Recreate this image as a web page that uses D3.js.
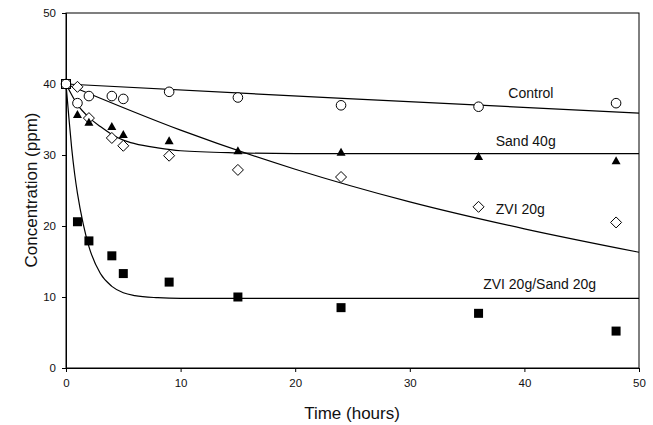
<!DOCTYPE html>
<html>
<head>
<meta charset="utf-8">
<script src="https://cdn.jsdelivr.net/npm/d3@7"></script>
<style>
  body { margin: 0; background: #fff; }
  svg { display: block; font-family: "Liberation Sans", Arial, sans-serif; }
</style>
</head>
<body>
<svg id="chart" width="653" height="425"></svg>
<script>
// measured points (hours, ppm)
const times = [1, 2, 4, 5, 9, 15, 24, 36, 48];
const control  = [37.3, 38.3, 38.3, 37.9, 38.9, 38.1, 37.0, 36.8, 37.3];
const sand40   = [35.7, 34.6, 34.0, 32.9, 32.0, 30.6, 30.4, 29.8, 29.2];
const zvi20    = [39.6, 35.2, 32.4, 31.3, 29.9, 27.9, 26.9, 22.7, 20.5];
const zviSand  = [20.6, 17.9, 15.8, 13.3, 12.1, 10.0, 8.5, 7.7, 5.2];
const initial  = [[0, 40]];

// fitted curves
const ctrlFitT = [0, 25, 50];
const ctrlFitC = [40, 37.9, 35.9];
const sandFitT = [0, 1, 2, 3, 4, 5, 6, 8, 10, 15, 20, 50];
const sandFitC = [40, 37.1, 35.3, 34.0, 32.9, 32.1, 31.6, 31.0, 30.6, 30.3, 30.2, 30.2];
const zviFitT  = [0, 10, 20, 30, 40, 50];
const zviFitC  = [40, 33.5, 28.0, 23.4, 19.6, 16.3];
const mixFitT  = [0, 0.25, 0.5, 0.75, 1, 1.5, 2, 3, 4, 5, 6, 8, 10, 50];
const mixFitC  = [40, 35.3, 30.9, 27.4, 24.6, 20.3, 17.1, 13.3, 11.5, 10.6, 10.2, 9.9, 9.8, 9.8];

const xTicks = [0, 10, 20, 30, 40, 50];
const yTicks = [0, 10, 20, 30, 40, 50];

const labels = [
  { text: "Control",          t: 38.6, c: 38.0 },
  { text: "Sand 40g",         t: 37.5, c: 31.3 },
  { text: "ZVI 20g",          t: 37.5, c: 21.7 },
  { text: "ZVI 20g/Sand 20g", t: 36.4, c: 11.1 }
];

const svg = d3.select("#chart");
const x = d3.scaleLinear().domain([0, 50]).range([66, 639]);
const y = d3.scaleLinear().domain([0, 50]).range([368, 13]);

// frame
svg.append("rect").attr("x", 66).attr("y", 13).attr("width", 573).attr("height", 355)
  .attr("fill", "none").attr("stroke", "#000").attr("stroke-width", 1);

const xAxis = svg.append("g").attr("transform", "translate(0,368)")
  .call(d3.axisBottom(x).tickValues(xTicks).tickSize(4).tickPadding(7));
const yAxis = svg.append("g").attr("transform", "translate(66,0)")
  .call(d3.axisLeft(y).tickValues(yTicks).tickSize(4).tickPadding(6));
[xAxis, yAxis].forEach(a => {
  a.select(".domain").attr("stroke", "#000");
  a.selectAll("text").attr("font-size", 11.5).attr("fill", "#111")
    .attr("font-family", "Liberation Sans, Arial, sans-serif");
});

svg.append("text").attr("x", 352).attr("y", 419).attr("text-anchor", "middle")
  .attr("font-size", 17).attr("fill", "#111").text("Time (hours)");
svg.append("text").attr("transform", "translate(37,190) rotate(-90)")
  .attr("text-anchor", "middle").attr("font-size", 17).attr("fill", "#111").text("Concentration (ppm)");

// fit curves
const line = d3.line().x(d => x(d[0])).y(d => y(d[1])).curve(d3.curveMonotoneX);
[[ctrlFitT, ctrlFitC], [sandFitT, sandFitC], [zviFitT, zviFitC], [mixFitT, mixFitC]].forEach(([ts, cs]) => {
  svg.append("path").datum(ts.map((t, i) => [t, cs[i]]))
    .attr("d", line).attr("fill", "none").attr("stroke", "#000").attr("stroke-width", 1.2);
});

const pts = arr => times.map((t, i) => [t, arr[i]]);

// markers
svg.append("g").selectAll("circle").data(pts(control).concat(initial)).join("circle")
  .attr("cx", d => x(d[0])).attr("cy", d => y(d[1])).attr("r", 4.8)
  .attr("fill", "#fff").attr("stroke", "#000").attr("stroke-width", 1);

svg.append("g").selectAll("path").data(pts(zvi20)).join("path")
  .attr("transform", d => `translate(${x(d[0])},${y(d[1])})`)
  .attr("d", "M0,-5.5L5.5,0L0,5.5L-5.5,0Z")
  .attr("fill", "#fff").attr("stroke", "#000").attr("stroke-width", 1);

svg.append("g").selectAll("path").data(pts(sand40)).join("path")
  .attr("transform", d => `translate(${x(d[0])},${y(d[1])})`)
  .attr("d", "M0,-4.5L4.5,3.5L-4.5,3.5Z").attr("fill", "#000");

svg.append("g").selectAll("rect").data(pts(zviSand)).join("rect")
  .attr("x", d => x(d[0]) - 4.5).attr("y", d => y(d[1]) - 4.5)
  .attr("width", 9).attr("height", 9).attr("fill", "#000");

svg.append("g").selectAll("rect").data(initial).join("rect")
  .attr("x", d => x(d[0]) - 4.5).attr("y", d => y(d[1]) - 4.5)
  .attr("width", 9).attr("height", 9).attr("fill", "none").attr("stroke", "#000");

svg.append("g").selectAll("text").data(labels).join("text")
  .attr("x", d => x(d.t)).attr("y", d => y(d.c)).attr("font-size", 14).attr("fill", "#111")
  .text(d => d.text);
</script>
</body>
</html>
